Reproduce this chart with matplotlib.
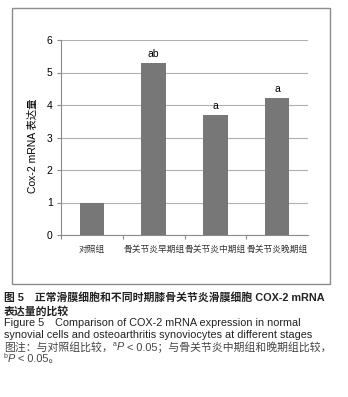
import matplotlib
matplotlib.use("Agg")
import matplotlib.pyplot as plt
from matplotlib.patches import Rectangle

plt.rcParams['font.family'] = ['Liberation Sans', 'Noto Sans CJK SC', 'DejaVu Sans']

# data
groups = ['对照组', '骨关节炎早期组', '骨关节炎中期组', '骨关节炎晚期组']
cox2 = [1.0, 5.30, 3.70, 4.22]
marks = ['', 'ab', 'a', 'a']
yticks = [0, 1, 2, 3, 4, 5, 6]

W, H = 348, 397
fig = plt.figure(figsize=(W / 100, H / 100), dpi=100)

# outer frame around chart
fig.patches.append(Rectangle((12 / W, 1 - 284 / H), 318 / W, 276 / H,
                             transform=fig.transFigure, fill=False,
                             edgecolor='#8c8c8c', linewidth=1.0))

ax = fig.add_axes([61 / W, 1 - 235 / H, 247 / W, 195 / H])
x = range(len(groups))
ax.bar(x, cox2, width=0.4, color='#777777', zorder=3)
for i, (v, m) in enumerate(zip(cox2, marks)):
    if m:
        ax.text(i, v + 0.12, m, ha='center', va='bottom', fontsize=7.5)

ax.set_xlim(-0.5, len(groups) - 0.5)
ax.set_ylim(0, 6)
ax.set_yticks(yticks)
ax.yaxis.grid(True, color='#b0b0b0', linewidth=0.8, zorder=0)
ax.tick_params(axis='y', length=3, color='#8c8c8c', labelsize=7.5, pad=3)
ax.set_xticks([i + 0.5 for i in range(len(groups) - 1)] + [-0.5])
ax.set_xticklabels([])
ax.tick_params(axis='x', length=3, color='#8c8c8c')
for i, g in enumerate(groups):
    ax.text(i, -0.3, g, ha='center', va='top', fontsize=6.3,
            family=['Noto Sans CJK SC'], color='#333333')
for s in ['top', 'right']:
    ax.spines[s].set_visible(False)
for s in ['left', 'bottom']:
    ax.spines[s].set_color('#8c8c8c')

fig.text(33 / W, 1 - 146 / H, 'Cox-2 mRNA 表达量', rotation=90,
         ha='center', va='center', fontsize=7.5)

# caption
cap = [
    (297, '图 5　正常滑膜细胞和不同时期膝骨关节炎滑膜细胞 COX-2 mRNA', 'bold', '#222222'),
    (311, '表达量的比较', 'bold', '#222222'),
    (323, 'Figure 5　Comparison of COX-2 mRNA expression in normal', 'normal', '#222222'),
    (335, 'synovial cells and osteoarthritis synoviocytes at different stages', 'normal', '#222222'),
]
for yy, t, wt, c in cap:
    fig.text(4 / W, 1 - yy / H, t, ha='left', va='center', fontsize=7.8,
             fontweight=wt, color=c)

# note lines with superscripts, drawn piece by piece
notes = [
    (347, [('图注：与对照组比较，', 'n'), ('a', 's'), ('P', 'i'), (' < 0.05；与骨关节炎中期组和晚期组比较，', 'n')]),
    (359, [('b', 's'), ('P', 'i'), (' < 0.05。', 'n')]),
]
fig.canvas.draw()
r = fig.canvas.get_renderer()
for yy, parts in notes:
    xpos = 4
    for t, k in parts:
        dy = 3 if k == 's' else 0
        t_ = fig.text(xpos / W, 1 - (yy - dy) / H, t, ha='left', va='center',
                      fontsize=5 if k == 's' else 7.8,
                      fontstyle='italic' if k == 'i' else 'normal',
                      color='#444444')
        xpos += t_.get_window_extent(r).width

fig.savefig('out.png', dpi=100)
